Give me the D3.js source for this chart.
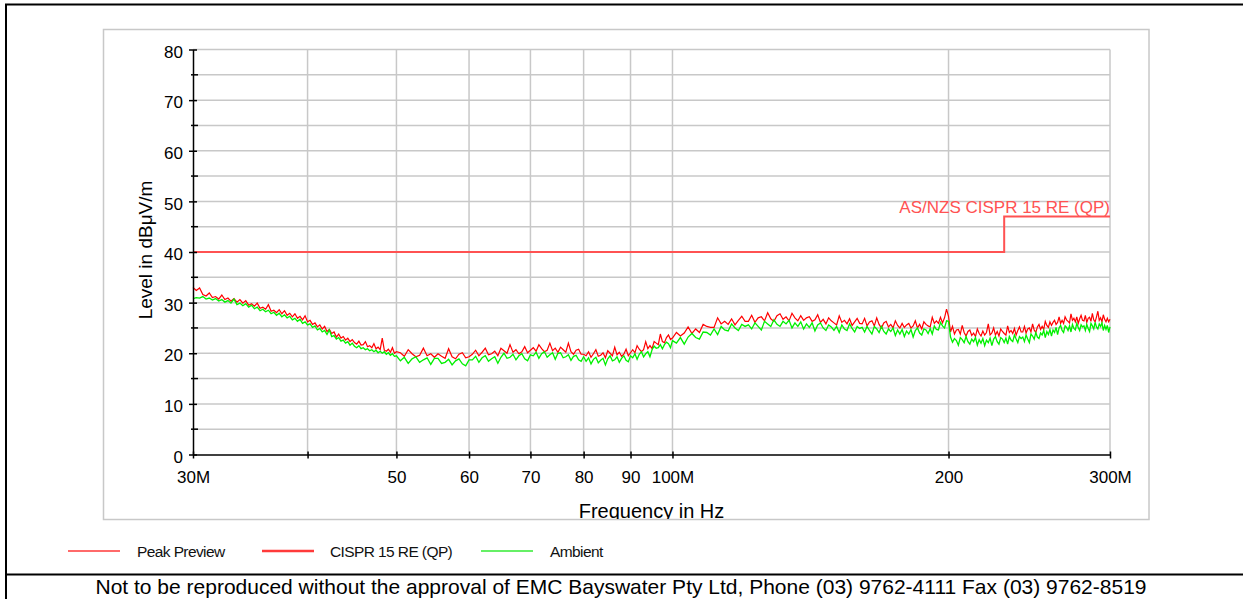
<!DOCTYPE html>
<html>
<head>
<meta charset="utf-8">
<script src="https://cdn.jsdelivr.net/npm/d3@7"></script>
<style>
	body { margin: 0; background: #fff; }
	text { font-family: "Liberation Sans", Arial, sans-serif; }
</style>
</head>
<body>
<svg id="chart" width="1243" height="599"></svg>
<script>
// Sweep 30 - 50 MHz
var freqLow = [
	30,30.25,30.5,30.75,31,31.25,31.5,31.75,32,32.25,
	32.5,32.75,33,33.25,33.5,33.75,34,34.25,34.5,34.75,
	35,35.25,35.5,35.75,36,36.25,36.5,36.75,37,37.25,
	37.5,37.75,38,38.25,38.5,38.75,39,39.25,39.5,39.75,
	40,40.25,40.5,40.75,41,41.25,41.5,41.75,42,42.25,
	42.5,42.75,43,43.25,43.5,43.75,44,44.25,44.5,44.75,
	45,45.25,45.5,45.75,46,46.25,46.5,46.75,47,47.25,
	47.5,47.75,48,48.25,48.5,48.75,49,49.25,49.5,49.75,
	50
];
var peakLow = [
	33.0,32.4,32.9,31.6,31.3,31.9,31.0,31.2,30.7,31.5,
	30.6,30.9,30.3,30.8,30.1,30.6,29.9,30.4,29.5,29.8,
	29.3,29.9,28.9,29.1,28.7,29.6,28.3,28.5,28.0,28.6,
	27.8,28.4,27.5,27.9,27.2,27.8,26.9,27.3,26.6,27.4,
	26.2,26.5,25.7,26.0,25.2,25.6,24.8,25.3,24.3,24.7,
	23.9,24.2,23.2,23.8,23.0,23.3,22.6,23.0,22.3,22.7,
	22.1,21.8,22.4,21.6,21.7,22.3,21.3,21.5,21.1,21.9,
	20.9,21.2,20.7,23.0,20.6,20.4,20.8,20.2,21.1,20.0,
	20.3
];
var ambientLow = [
	30.8,31.0,30.9,31.2,30.7,30.9,30.5,30.8,30.3,30.6,
	30.1,30.4,29.9,30.7,29.6,29.9,29.4,29.8,29.1,29.5,
	28.8,29.1,28.4,28.7,28.2,28.5,27.8,28.1,27.5,27.9,
	27.2,27.6,27.0,27.3,26.6,26.9,26.3,26.7,25.9,26.2,
	25.6,25.8,25.1,25.4,24.6,24.9,24.2,24.5,23.7,24.6,
	23.3,23.5,22.8,23.1,22.4,22.6,22.0,22.3,21.6,22.0,
	21.4,21.1,21.5,20.9,21.1,20.7,20.9,20.5,20.7,20.3,
	20.6,20.1,20.4,20.0,20.3,19.8,20.1,19.6,19.9,19.4,
	19.5
];

// Sweep 50.5 - 100 MHz
var freqMid = [
	50.5,51,51.5,52,52.5,53,53.5,54,54.5,55,
	55.5,56,56.5,57,57.5,58,58.5,59,59.5,60,
	60.5,61,61.5,62,62.5,63,63.5,64,64.5,65,
	65.5,66,66.5,67,67.5,68,68.5,69,69.5,70,
	70.5,71,71.5,72,72.5,73,73.5,74,74.5,75,
	75.5,76,76.5,77,77.5,78,78.5,79,79.5,80,
	80.5,81,81.5,82,82.5,83,83.5,84,84.5,85,
	85.5,86,86.5,87,87.5,88,88.5,89,89.5,90,
	90.5,91,91.5,92,92.5,93,93.5,94,94.5,95,
	95.5,96,96.5,97,97.5,98,98.5,99,99.5,100
];
var peakMid = [
	20.1,19.4,20.7,19.9,19.3,19.6,21.0,19.5,19.9,19.2,
	19.9,19.4,19.0,20.9,19.3,18.9,19.8,20.1,19.1,19.3,
	19.8,20.6,19.5,20.2,21.0,19.7,19.9,20.4,19.5,21.0,
	20.5,20.0,21.7,20.2,20.7,19.9,20.3,21.3,20.1,20.6,
	21.1,20.4,21.7,20.9,20.3,20.6,22.0,20.5,21.0,20.2,
	21.2,20.7,20.2,22.0,20.3,19.8,20.6,20.8,19.8,19.8,
	19.5,20.3,19.2,19.9,20.7,19.4,19.6,20.1,19.1,20.5,
	20.0,19.5,21.2,19.7,20.2,19.4,19.8,20.8,19.5,20.1,
	20.7,20.1,21.5,20.8,20.3,20.7,22.3,20.9,21.5,20.9,
	22.3,22.0,21.7,23.8,22.3,22.1,23.1,23.6,22.7,23.0
];
var ambientMid = [
	18.5,19.2,18.0,18.9,19.3,18.2,18.7,19.1,17.8,19.0,
	19.0,18.0,18.2,18.8,17.7,18.5,18.9,17.9,17.5,18.7,
	18.7,19.4,18.2,19.1,19.5,18.4,18.9,19.3,18.0,19.2,
	20.0,19.0,19.2,19.8,18.7,19.5,19.9,18.9,18.5,19.7,
	19.5,20.2,19.0,19.9,20.3,19.2,19.7,20.1,18.8,20.0,
	20.1,19.1,19.3,19.7,18.6,19.4,19.6,18.7,18.4,19.3,
	18.4,19.1,17.9,18.8,19.2,18.1,18.6,19.0,17.7,18.9,
	19.5,18.5,18.7,19.3,18.2,19.0,19.5,18.6,18.3,19.5,
	19.1,19.9,18.8,19.8,20.3,19.3,19.9,20.3,19.3,20.7,
	21.4,21.0,21.1,21.7,20.9,21.7,22.2,21.9,21.1,22.5
];

// Sweep 101 - 300 MHz
var freqHigh = [
	101,102,103,104,105,106,107,108,109,110,
	111,112,113,114,115,116,117,118,119,120,
	121,122,123,124,125,126,127,128,129,130,
	131,132,133,134,135,136,137,138,139,140,
	141,142,143,144,145,146,147,148,149,150,
	151,152,153,154,155,156,157,158,159,160,
	161,162,163,164,165,166,167,168,169,170,
	171,172,173,174,175,176,177,178,179,180,
	181,182,183,184,185,186,187,188,189,190,
	191,192,193,194,195,196,197,198,199,200,
	201,202,203,204,205,206,207,208,209,210,
	211,212,213,214,215,216,217,218,219,220,
	221,222,223,224,225,226,227,228,229,230,
	231,232,233,234,235,236,237,238,239,240,
	241,242,243,244,245,246,247,248,249,250,
	251,252,253,254,255,256,257,258,259,260,
	261,262,263,264,265,266,267,268,269,270,
	271,272,273,274,275,276,277,278,279,280,
	281,282,283,284,285,286,287,288,289,290,
	291,292,293,294,295,296,297,298,299,300
];
var peakHigh = [
	24.1,23.4,24.0,25.2,23.9,24.8,24.1,25.7,25.3,25.1,
	25.1,27.0,25.8,26.3,25.7,26.8,25.6,26.5,27.3,26.3,
	26.3,27.5,26.1,27.0,27.2,26.4,28.0,26.8,26.3,27.4,
	27.8,26.7,27.2,26.4,27.9,27.0,26.4,27.4,26.5,27.0,
	27.2,26.3,26.6,27.6,26.1,26.7,25.8,27.0,26.4,26.0,
	25.6,27.4,26.1,26.5,25.8,26.8,25.5,26.2,26.9,25.9,
	25.8,26.9,25.4,26.2,26.4,25.4,27.0,25.7,25.0,26.0,
	26.3,25.2,25.7,25.0,26.4,25.5,25.0,25.9,25.1,25.6,
	25.9,25.0,25.4,26.4,25.0,25.7,24.8,26.2,25.7,25.4,
	25.2,27.1,25.9,26.4,25.9,27.1,26.0,27.0,28.7,27.3,
	24.2,25.3,23.8,24.6,24.7,23.8,25.5,24.1,23.4,24.3,
	24.6,23.5,24.0,23.3,24.8,23.9,23.4,24.4,23.6,24.1,
	25.8,23.6,24.0,25.0,23.6,24.3,23.4,24.8,24.3,23.9,
	23.6,25.4,24.1,24.5,23.9,24.9,23.6,24.5,25.2,24.2,
	24.2,25.3,24.0,24.8,25.0,24.2,25.8,24.6,24.1,25.2,
	25.7,24.7,25.3,24.7,26.3,25.5,25.1,26.2,25.5,26.1,
	26.5,25.7,26.1,27.2,25.9,26.5,25.9,27.2,26.6,26.3,
	26.0,27.8,26.5,26.9,26.2,27.2,25.9,26.8,27.5,26.5,
	26.4,27.5,26.1,26.9,27.1,26.3,27.9,26.6,26.2,27.2,
	28.3,26.5,27.0,26.2,27.6,26.7,26.2,26.9,26.2,26.7
];
var ambientHigh = [
	22.0,23.1,21.8,23.2,23.9,23.1,22.8,24.2,24.1,23.6,
	24.8,23.7,25.3,24.6,24.4,25.8,25.0,24.5,25.7,25.3,
	25.6,24.8,26.0,25.3,24.6,26.3,25.8,25.3,26.6,25.7,
	25.3,26.3,25.8,26.5,25.0,26.0,25.3,26.2,24.8,25.8,
	25.1,26.0,24.4,25.6,26.0,25.0,24.5,25.6,25.2,24.5,
	25.3,24.1,25.6,24.8,24.5,25.8,24.9,24.2,25.3,24.9,
	25.1,24.2,25.3,24.5,23.8,25.3,24.8,24.1,25.3,24.3,
	23.8,24.8,24.3,25.0,23.5,24.6,23.8,24.7,23.3,24.4,
	23.8,24.7,23.2,24.5,25.0,24.0,23.6,24.8,24.6,23.9,
	24.9,23.8,25.4,24.7,24.6,26.1,25.4,25.0,26.4,26.3,
	23.2,22.2,22.9,22.5,21.6,23.1,22.7,22.1,23.3,22.3,
	21.8,22.8,22.3,23.1,21.6,22.7,22.0,22.9,21.5,22.6,
	22.1,23.0,21.5,22.8,23.3,22.3,21.8,23.1,22.8,22.1,
	23.0,21.8,23.3,22.6,22.3,23.6,22.8,22.1,23.3,22.9,
	23.2,22.3,23.6,22.8,22.1,23.8,23.4,22.8,24.1,23.2,
	22.9,24.0,23.6,24.5,23.1,24.3,23.7,24.7,23.4,24.6,
	24.1,25.1,23.7,25.0,25.5,24.5,24.1,25.4,25.1,24.5,
	25.4,24.2,25.7,24.9,24.6,25.9,25.1,24.5,25.6,25.2,
	25.4,24.5,25.7,24.9,24.3,25.9,25.4,24.8,26.1,25.2,
	24.8,25.8,25.3,26.0,24.5,25.5,24.7,25.5,24.1,25.2
];

// Limit line AS/NZS CISPR 15 RE (QP)
var limitFreq = [30, 230, 230, 300];
var limitLevel = [40, 40, 47, 47];

var yTicks = [0, 10, 20, 30, 40, 50, 60, 70, 80];
var yMinorTicks = [5, 15, 25, 35, 45, 55, 65, 75];
var xTicks = [30, 40, 50, 60, 70, 80, 90, 100, 200, 300];
var xTickLabels = ['30M', '', '50', '60', '70', '80', '90', '100M', '200', '300M'];
var legendNames = ['Peak Preview', 'CISPR 15 RE (QP)', 'Ambient'];

(function() {
	'use strict';

	var svg = d3.select('#chart');

	var left = 193, right = 1110, top = 49.5, bottom = 454.5;
	var gridColor = '#c8c8c8';
	var peakColor = '#ff0000';
	var ambientColor = '#00f000';
	var limitColor = '#ff5252';

	var freq = freqLow.concat(freqMid, freqHigh);
	var peak = peakLow.concat(peakMid, peakHigh);
	var ambient = ambientLow.concat(ambientMid, ambientHigh);
	var n = Math.min(freq.length, peak.length, ambient.length);
	var data = d3.range(n).map(function(i) {
		return { f: freq[i], peak: peak[i], ambient: ambient[i] };
	});
	var limit = limitFreq.map(function(f, i) { return { f: f, v: limitLevel[i] }; });

	var x = d3.scaleLog().domain([30, 300]).range([left, right]);
	var y = d3.scaleLinear().domain([0, 80]).range([bottom, top]);

	// Outer frame
	svg.append('line').attr('x1', 5).attr('x2', 1243).attr('y1', 4.5).attr('y2', 4.5)
		.attr('stroke', '#000').attr('stroke-width', 2);
	svg.append('line').attr('x1', 6).attr('x2', 6).attr('y1', 4).attr('y2', 599)
		.attr('stroke', '#000').attr('stroke-width', 2);
	svg.append('line').attr('x1', 5).attr('x2', 1243).attr('y1', 574.5).attr('y2', 574.5)
		.attr('stroke', '#000').attr('stroke-width', 2);

	// Gray chart box
	svg.append('rect')
		.attr('x', 103.5).attr('y', 29.5).attr('width', 1045.5).attr('height', 490)
		.attr('fill', 'none').attr('stroke', gridColor).attr('stroke-width', 1.5);

	svg.append('clipPath').attr('id', 'box-clip')
		.append('rect').attr('x', 104).attr('y', 30).attr('width', 1044).attr('height', 489);

	// Grid
	var grid = svg.append('g');
	grid.selectAll('line.h')
		.data(yTicks.concat(yMinorTicks).filter(function(v) { return v > 0; }))
		.enter().append('line')
			.attr('x1', left).attr('x2', right)
			.attr('y1', function(d) { return y(d); })
			.attr('y2', function(d) { return y(d); })
			.attr('stroke', gridColor).attr('stroke-width', 1.5);
	grid.selectAll('line.v')
		.data(xTicks.slice(1))
		.enter().append('line')
			.attr('x1', function(d) { return x(d); })
			.attr('x2', function(d) { return x(d); })
			.attr('y1', top).attr('y2', bottom)
			.attr('stroke', gridColor).attr('stroke-width', 1.5);

	// Limit line
	var limitLine = d3.line()
		.x(function(d) { return x(d.f); })
		.y(function(d) { return y(d.v); });
	svg.append('path')
		.datum(limit)
		.attr('d', limitLine)
		.attr('fill', 'none')
		.attr('stroke', limitColor)
		.attr('stroke-width', 2);

	svg.append('text')
		.attr('x', right)
		.attr('y', 213)
		.attr('text-anchor', 'end')
		.attr('fill', limitColor)
		.style('font-size', '17px')
		.text('AS/NZS CISPR 15 RE (QP)');

	// Traces
	var peakLine = d3.line()
		.x(function(d) { return x(d.f); })
		.y(function(d) { return y(d.peak); });
	var ambientLine = d3.line()
		.x(function(d) { return x(d.f); })
		.y(function(d) { return y(d.ambient); });

	svg.append('path')
		.datum(data)
		.attr('d', peakLine)
		.attr('fill', 'none')
		.attr('stroke', peakColor)
		.attr('stroke-width', 1.2);

	svg.append('path')
		.datum(data)
		.attr('d', ambientLine)
		.attr('fill', 'none')
		.attr('stroke', ambientColor)
		.attr('stroke-width', 1.3);

	// Y axis
	var yAxis = d3.axisLeft(y)
		.tickValues(yTicks)
		.tickSizeInner(4)
		.tickSizeOuter(0)
		.tickPadding(6);
	var gy = svg.append('g')
		.attr('transform', 'translate(' + left + ',0)')
		.call(yAxis);
	gy.select('.domain').attr('stroke', '#000').attr('stroke-width', 1.5);
	gy.selectAll('.tick line').attr('x1', 4).attr('x2', -4).attr('stroke-width', 1.5);
	gy.selectAll('.tick text')
		.attr('dy', '0.45em')
		.attr('fill', '#000')
		.style('font-size', '17px')
		.style('font-family', '"Liberation Sans", Arial, sans-serif');

	gy.selectAll('.minor')
		.data(yMinorTicks)
		.enter().append('line')
			.attr('x1', -2).attr('x2', 5)
			.attr('y1', function(d) { return y(d); })
			.attr('y2', function(d) { return y(d); })
			.attr('stroke', '#000').attr('stroke-width', 1.5);

	// X axis
	var xAxis = d3.axisBottom(x)
		.tickValues(xTicks)
		.tickFormat(function(d, i) { return xTickLabels[i]; })
		.tickSizeInner(4)
		.tickSizeOuter(0)
		.tickPadding(12);
	var gx = svg.append('g')
		.attr('transform', 'translate(0,' + bottom + ')')
		.call(xAxis);
	gx.select('.domain').attr('stroke', '#000').attr('stroke-width', 1.5);
	gx.selectAll('.tick line').attr('y1', -3).attr('y2', 4).attr('stroke-width', 1.5);
	gx.selectAll('.tick text')
		.attr('fill', '#000')
		.style('font-size', '17px')
		.style('font-family', '"Liberation Sans", Arial, sans-serif');

	// Axis titles
	svg.append('text')
		.attr('transform', 'translate(152,250) rotate(-90)')
		.attr('text-anchor', 'middle')
		.style('font-size', '19px')
		.text('Level in dBμV/m');

	svg.append('text')
		.attr('clip-path', 'url(#box-clip)')
		.attr('x', 651.5)
		.attr('y', 517.5)
		.attr('text-anchor', 'middle')
		.style('font-size', '20px')
		.text('Frequency in Hz');

	// Legend
	var legend = [
		{ name: legendNames[0], color: '#ff6a6a', width: 2, x: 68, tx: 137 },
		{ name: legendNames[1], color: '#ff3a3a', width: 2.5, x: 262, tx: 330 },
		{ name: legendNames[2], color: '#66f066', width: 2, x: 481, tx: 550 }
	];
	var lg = svg.append('g');
	lg.selectAll('line')
		.data(legend)
		.enter().append('line')
			.attr('x1', function(d) { return d.x; })
			.attr('x2', function(d) { return d.x + 52; })
			.attr('y1', 551).attr('y2', 551)
			.attr('stroke', function(d) { return d.color; })
			.attr('stroke-width', function(d) { return d.width; });
	lg.selectAll('text')
		.data(legend)
		.enter().append('text')
			.attr('x', function(d) { return d.tx; })
			.attr('y', 557)
			.style('font-size', '15.5px')
			.style('letter-spacing', '-0.6px')
			.attr('fill', '#111')
			.text(function(d) { return d.name; });

	// Footer
	svg.append('text')
		.attr('x', 621)
		.attr('y', 594)
		.attr('text-anchor', 'middle')
		.style('font-size', '21px')
		.text('Not to be reproduced without the approval of EMC Bayswater Pty Ltd, Phone (03) 9762-4111 Fax (03) 9762-8519');

})();
</script>
</body>
</html>
